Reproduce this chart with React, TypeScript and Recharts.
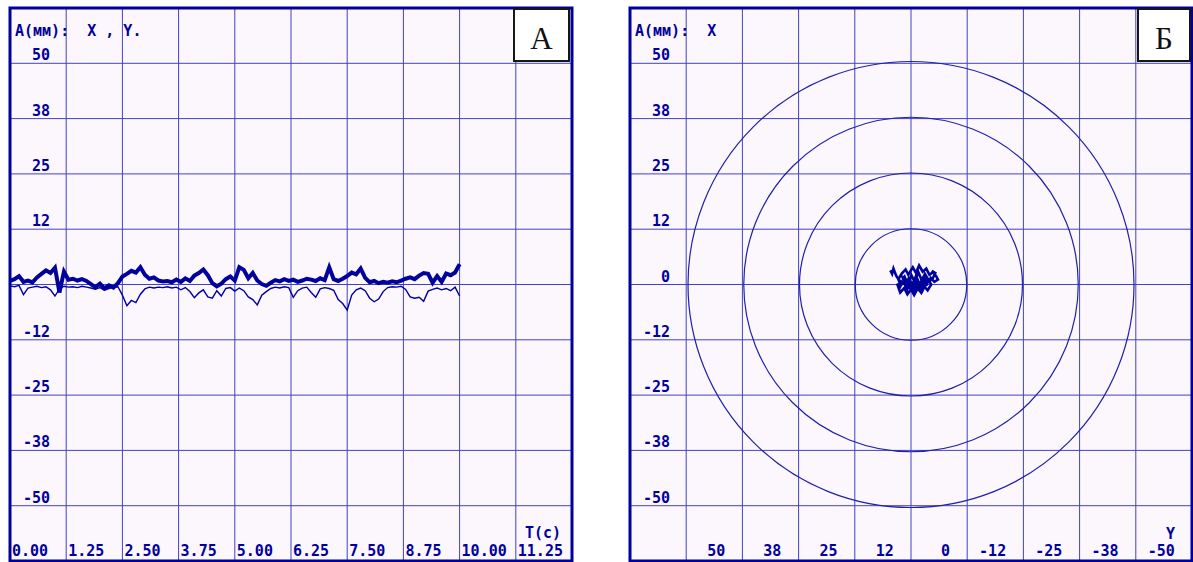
import React from 'react';
import { ComposedChart, Line, XAxis, YAxis, CartesianGrid, ReferenceArea, ReferenceDot } from 'recharts';

// sampling step of the recorded traces, seconds
const SAMPLE_STEP = 0.1;

// X displacement (mm), every 0.1 s from 0.0 to 10.0 s
const X_TRACE = [
  0.8, 1.2, 1.9, 0.6, 0.9, 0.5, 1.6, 2.4, 3.2, 2.6,
  3.8, -1.8, 2.9, 1.1, 1.3, 0.9, 1.2, 0.8, 0.1, -0.6,
  0.2, -0.9, -0.2, -0.7, 0.3, 1.8, 2.4, 3.1, 2.7, 3.9,
  2.2, 1.3, 1.6, 0.9, 0.7, 0.8, 0.5, 1.1, 0.6, 1.4,
  0.8, 2.0, 2.6, 3.4, 2.1, 0.3, -0.4, 0.2, 1.2, 1.8,
  0.9, 3.9, 3.3, 1.4, 2.6, 0.9, 0.1, -0.3, 0.4, 1.0,
  0.7, 1.2, 0.8, 1.1, 0.6, 0.9, 1.3, 1.1, 0.8, 1.4,
  1.0, 3.9, 1.2, 0.8, 1.3, 1.9, 2.7, 2.3, 3.6, 1.5,
  0.5, 0.8, 0.3, 0.6, 0.4, 0.7, 0.5, 0.9, 1.3, 1.6,
  1.2, 2.0, 2.6, 2.4, 0.4, 1.9, 0.6, 2.5, 2.1, 2.7,
  4.6,
];

// Y displacement (mm), same sampling
const Y_TRACE = [
  -0.3, -0.5, -0.2, -2.3, -0.8, -0.6, -0.4, -0.7, -0.5, -1.2,
  -2.6, -1.0, -0.4, -0.6, -0.5, -0.7, -0.4, -0.6, -0.8, -1.1,
  -0.7, -1.3, -0.9, -0.6, -0.5, -2.4, -4.8, -3.6, -4.1, -2.2,
  -1.0, -0.6, -0.8, -0.6, -0.7, -0.5, -0.8, -0.6, -1.2, -0.7,
  -1.6, -3.0, -1.9, -1.2, -2.8, -3.1, -1.4, -2.6, -0.9, -0.7,
  -1.5, -0.8, -1.4, -2.8, -3.4, -4.6, -2.4, -1.6, -0.9, -0.6,
  -0.8, -0.5, -0.7, -2.9, -1.4, -0.8, -0.6, -1.8, -2.9, -1.0,
  -0.7, -0.9, -1.3, -3.4, -4.3, -5.8, -2.4, -1.2, -0.8, -1.4,
  -3.1, -3.9, -3.3, -1.6, -0.7, -0.5, -0.6, -0.4, -1.1, -2.8,
  -3.1, -2.9, -3.8, -1.5, -1.1, -0.8, -1.2, -0.9, -1.4, -0.6,
  -2.6,
];

// X/Y plot of the same record: horizontal = Y (mm), vertical = X (mm)
const BLOB_Y = [
  4.6, 4.2, 3.9, 3.3, 2.8, 2.1, 1.2, 0.6, -0.4, -1.1, -1.8, -2.6, -3.4, -4.1, -4.9,
  -5.6, -6.0, -5.2, -4.4, -3.6, -2.9, -2.1, -1.3, -0.5, 0.3, 1.1, 1.9, 2.6, 3.1, 2.4,
  1.5, 0.8, 0.0, -0.7, -1.5, -2.3, -3.0, -3.7, -4.5, -3.9, -3.1, -2.4, -1.6, -0.9, -0.1,
  0.7, 1.4, 2.2, 2.9, 2.3, 1.6, 0.9, 0.2, -0.6, -1.4, -2.2, -2.9, -3.5, -2.7, -1.9,
  -1.1, -0.3, 0.5, 1.3, 2.0, 1.0, 0.2, -0.8, -1.7, -2.5, -3.3, -4.0, -4.8, -5.4, -4.6,
];
const BLOB_X = [
  3.2, 2.4, 3.6, 2.0, 1.2, 2.4, 3.4, 2.2, 3.9, 2.6, 4.3, 2.9, 3.6, 2.2, 2.8,
  1.9, 1.1, 0.6, 1.5, 0.3, 1.8, -0.2, 1.4, -0.6, 1.0, -0.4, 0.7, -0.9, 0.2, -1.8,
  -0.8, -2.2, -1.1, -2.4, -0.9, -1.9, -0.5, -1.3, 0.0, 1.0, 2.4, 0.9, 2.9, 0.4, 2.1,
  0.0, 1.7, 0.3, 1.5, -0.3, 0.9, -1.3, 0.5, -1.5, 0.2, -1.2, 0.8, -0.4, 1.6, 0.1,
  1.9, -0.1, 1.4, 0.2, 1.9, 0.8, -0.8, 1.1, -0.4, 1.2, 0.0, 0.7, 1.3, 2.6, 3.1,
];

const RINGS_MM = [12.5, 25, 37.5, 50];

const TIME_TICKS = [0, 1.25, 2.5, 3.75, 5, 6.25, 7.5, 8.75, 10, 11.25, 12.5];
const TIME_LABELS = ['0.00', '1.25', '2.50', '3.75', '5.00', '6.25', '7.50', '8.75', '10.00', '11.25', ''];
const AMP_TICKS = [62.5, 50, 37.5, 25, 12.5, 0, -12.5, -25, -37.5, -50, -62.5];
const AMP_LABELS_A = ['', '50', '38', '25', '12', '', '-12', '-25', '-38', '-50', ''];
const AMP_LABELS_B = ['', '50', '38', '25', '12', '0', '-12', '-25', '-38', '-50', ''];
const H_TICKS_B = [62.5, 50, 37.5, 25, 12.5, 0, -12.5, -25, -37.5, -50, -62.5];
const H_LABELS_B = ['', '50', '38', '25', '12', '0', '-12', '-25', '-38', '-50', ''];

const traceData = X_TRACE.map((x, i) => ({ t: +(i * SAMPLE_STEP).toFixed(2), x, y: Y_TRACE[i] }));
const blobData = BLOB_Y.map((h, i) => ({ h, v: BLOB_X[i] }));

const INK = '#00009c';
const GRID = '#4242c0';
const PAPER = '#fcf7fd';
const MONO = { fontFamily: '"DejaVu Sans Mono", monospace', fontWeight: 'bold' as const, fontSize: 15, fill: INK };

const H = 562;
const MARGIN = { top: 8, left: 10, right: 8, bottom: 1 };
const PLOT_LEFT = MARGIN.left;
const PLOT_BOTTOM = H - MARGIN.bottom;
const PLOT_W = 562;
const PLOT_H = H - MARGIN.top - MARGIN.bottom;
const PX_PER_MM = (PLOT_W + PLOT_H) / 2 / 125;

const yTick = (labels: string[]) => (props: any) => {
  const i = AMP_TICKS.indexOf(props.payload.value);
  return (
    <text x={PLOT_LEFT + 40} y={props.y - 3} textAnchor="end" {...MONO}>
      {i >= 0 ? labels[i] : ''}
    </text>
  );
};

const timeTick = (props: any) => {
  const i = TIME_TICKS.indexOf(props.payload.value);
  return (
    <text x={props.x + 2} y={PLOT_BOTTOM - 5} textAnchor="start" {...MONO}>
      {i >= 0 ? TIME_LABELS[i] : ''}
    </text>
  );
};

const hTickB = (props: any) => {
  const i = H_TICKS_B.indexOf(props.payload.value);
  return (
    <text x={props.x + 39} y={PLOT_BOTTOM - 5} textAnchor="end" {...MONO}>
      {i >= 0 ? H_LABELS_B[i] : ''}
    </text>
  );
};

const headerStyle: React.CSSProperties = {
  position: 'absolute',
  top: 24,
  fontFamily: '"DejaVu Sans Mono", monospace',
  fontWeight: 'bold',
  fontSize: 15,
  lineHeight: '15px',
  color: INK,
  whiteSpace: 'pre',
};

const boxStyle: React.CSSProperties = {
  position: 'absolute',
  top: 8,
  height: 54,
  boxSizing: 'border-box',
  border: '2px solid #161616',
  background: '#fff',
  fontFamily: '"Liberation Serif", "Times New Roman", serif',
  fontSize: 31,
  lineHeight: '30px',
  textAlign: 'center',
  paddingTop: 14,
  color: '#111',
};

function PanelA() {
  return (
    <ComposedChart width={580} height={H} data={traceData} margin={MARGIN}>
      <CartesianGrid stroke={GRID} fill={PAPER} fillOpacity={1} />
      <XAxis dataKey="t" type="number" domain={[0, 12.5]} ticks={TIME_TICKS} interval={0}
        mirror axisLine={false} tickLine={false} tick={timeTick} />
      <YAxis type="number" domain={[-62.5, 62.5]} ticks={AMP_TICKS} interval={0}
        mirror axisLine={false} tickLine={false} tick={yTick(AMP_LABELS_A)} />
      <Line dataKey="y" type="linear" stroke={INK} strokeWidth={1.4} dot={false} isAnimationActive={false} />
      <Line dataKey="x" type="linear" stroke={INK} strokeWidth={4} strokeLinejoin="miter" dot={false} isAnimationActive={false} />
      <ReferenceArea x1={0} x2={12.5} y1={-62.5} y2={62.5} fill="none" stroke={INK} strokeWidth={3} ifOverflow="visible" />
    </ComposedChart>
  );
}

function PanelB() {
  return (
    <ComposedChart width={573} height={H} data={blobData} margin={{ ...MARGIN, right: 1 }}>
      <CartesianGrid stroke={GRID} fill={PAPER} fillOpacity={1} />
      <XAxis dataKey="h" type="number" domain={[-62.5, 62.5]} ticks={H_TICKS_B} interval={0} reversed
        mirror axisLine={false} tickLine={false} tick={hTickB} />
      <YAxis type="number" domain={[-62.5, 62.5]} ticks={AMP_TICKS} interval={0}
        mirror axisLine={false} tickLine={false} tick={yTick(AMP_LABELS_B)} />
      {RINGS_MM.map((r) => (
        <ReferenceDot key={r} x={0} y={0} r={r * PX_PER_MM} fill="none" stroke="#2020a8" strokeWidth={1.2} ifOverflow="visible" />
      ))}
      <Line dataKey="v" type="linear" stroke={INK} strokeWidth={2.6} dot={false} isAnimationActive={false} />
      <ReferenceArea x1={-62.5} x2={62.5} y1={-62.5} y2={62.5} fill="none" stroke={INK} strokeWidth={3} ifOverflow="visible" />
    </ComposedChart>
  );
}

export default function App() {
  return (
    <div style={{ position: 'absolute', left: 0, top: 0, width: 1193, height: 562, background: '#fff', overflow: 'hidden' }}>
      <div style={{ position: 'absolute', left: 0, top: 0 }}>
        <PanelA />
      </div>
      <div style={{ position: 'absolute', left: 620, top: 0 }}>
        <PanelB />
      </div>
      <div style={{ ...headerStyle, left: 15 }}>{'A(мм):  X , Y.'}</div>
      <div style={{ ...headerStyle, left: 635 }}>{'A(мм):  X'}</div>
      <div style={{ ...headerStyle, top: 526, left: 525 }}>{'T(c)'}</div>
      <div style={{ ...headerStyle, top: 527, left: 1166 }}>{'Y'}</div>
      <div style={{ ...boxStyle, left: 513, width: 57 }}>А</div>
      <div style={{ ...boxStyle, left: 1137, width: 54 }}>Б</div>
    </div>
  );
}
